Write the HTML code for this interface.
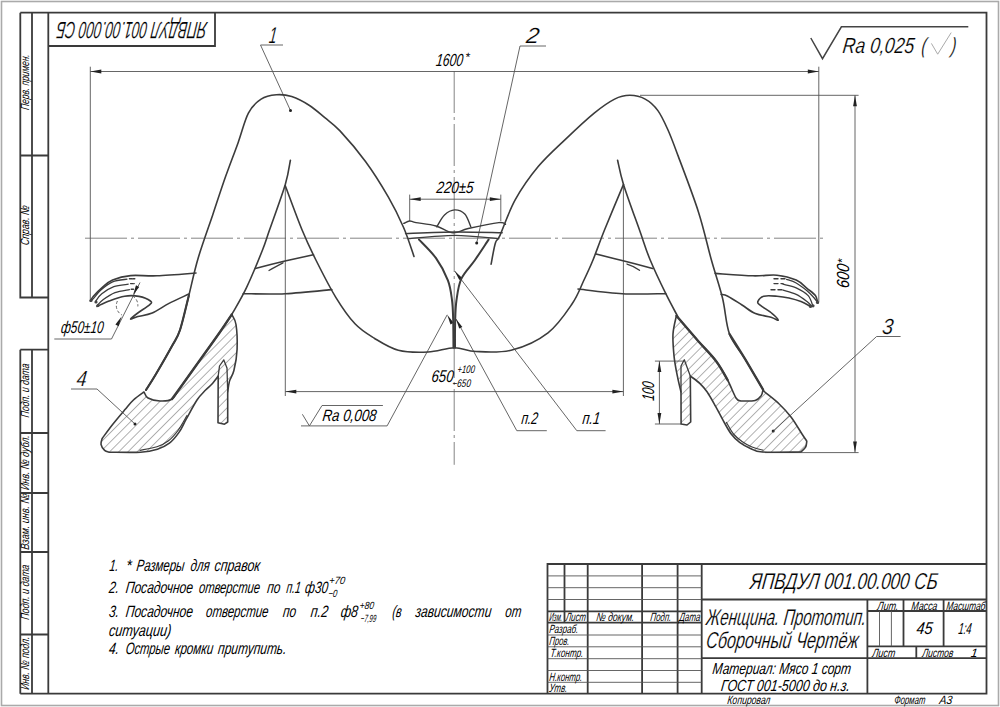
<!DOCTYPE html>
<html><head><meta charset="utf-8">
<style>
html,body{margin:0;padding:0;background:#fff;width:1000px;height:707px;overflow:hidden}
svg{display:block}
text{font-family:"Liberation Sans",sans-serif;font-style:italic;fill:#000}
.k{stroke:#3a3a3a;fill:none;stroke-width:1.8}
.t{stroke:#555;fill:none;stroke-width:0.9}
.c{stroke:#777;fill:none;stroke-width:0.9}
.b{stroke:#3c3c3c;fill:none;stroke-width:1.6;stroke-linecap:round;stroke-linejoin:round}
.h{stroke:#666;fill:none;stroke-width:0.8}
</style></head>
<body>
<svg width="1000" height="707" viewBox="0 0 1000 707">
<!-- outer sheet border -->
<rect x="1.5" y="1.5" width="997" height="704" fill="none" stroke="#aaa" stroke-width="1.6"/>
<!-- FRAME -->
<g id="frame">
<path class="k" d="M20.3 12.7H986.5V693.7H20.3"/>
<path class="k" d="M48.3 12.7V693.7"/>
<path class="k" d="M20.3 12.7V297.5H48.3M20.3 155.5H48.3M32 12.7V297.5"/>
<path class="k" d="M20.3 349.7H48.3M20.3 349.7V693.7M32 349.7V693.7M20.3 433H48.3M20.3 493H48.3M20.3 552H48.3M20.3 634.5H48.3"/>
<path class="k" d="M48.3 46H215V12.7"/>
</g>
<g id="striptext" font-size="12">
<text transform="translate(29.3 110.2) rotate(-90) skewX(-7)" textLength="55.5" lengthAdjust="spacingAndGlyphs">Перв. примен.</text>
<text transform="translate(29.3 245.5) rotate(-90) skewX(-7)" textLength="39.7" lengthAdjust="spacingAndGlyphs">Справ. №</text>
<text transform="translate(29.3 417.7) rotate(-90) skewX(-7)" textLength="53.7" lengthAdjust="spacingAndGlyphs">Подп. и дата</text>
<text transform="translate(29.3 490.3) rotate(-90) skewX(-7)" textLength="54.8" lengthAdjust="spacingAndGlyphs">Инв. № дубл.</text>
<text transform="translate(29.3 550) rotate(-90) skewX(-7)" textLength="56" lengthAdjust="spacingAndGlyphs">Взам. инв. №</text>
<text transform="translate(29.3 620) rotate(-90) skewX(-7)" textLength="55" lengthAdjust="spacingAndGlyphs">Подп. и дата</text>
<text transform="translate(29.3 690) rotate(-90) skewX(-7)" textLength="53" lengthAdjust="spacingAndGlyphs">Инв. № подл.</text>
</g>
<text style="stroke:#fff;stroke-width:0.2px" transform="translate(207.5 21.5) rotate(180) skewX(-7)" font-size="23.5" textLength="150" lengthAdjust="spacingAndGlyphs">ЯПВДУЛ 001.00.000 СБ</text>

<!-- TITLE BLOCK -->
<g id="tb">
<path class="k" d="M547.5 693.7V564H986.5"/>
<path class="k" d="M564.5 564V622.7M587.7 564V693.7M642.1 564V693.7M677.6 564V693.7M701.7 564V693.7"/>
<path class="k" d="M547.5 611.3H701.7M547.5 622.7H701.7"/>
<path class="t" d="M547.5 575.9H701.7M547.5 587.7H701.7M547.5 599.5H701.7M547.5 635H701.7M547.5 646.8H701.7M547.5 658.7H701.7M547.5 670.5H701.7M547.5 682.3H701.7"/>
<path class="k" d="M701.7 599.5H986.5M701.7 658.2H986.5M867.4 599.5V693.7M867.4 611H986.5M903.5 599.5V646.3M943.6 599.5V646.3M867.4 646.3H986.5M916.3 646.3V658.2"/>
<path class="t" d="M879.5 611V646.3M891.4 611V646.3"/>
</g>
<g id="tbtext" font-size="12">
<text transform="translate(549 621) skewX(-7)" textLength="13" lengthAdjust="spacingAndGlyphs">Изм.</text>
<text transform="translate(565.5 621) skewX(-7)" textLength="20" lengthAdjust="spacingAndGlyphs">Лист</text>
<text transform="translate(596 621) skewX(-7)" textLength="38" lengthAdjust="spacingAndGlyphs">№ докум.</text>
<text transform="translate(650 621) skewX(-7)" textLength="21" lengthAdjust="spacingAndGlyphs">Подп.</text>
<text transform="translate(679 621) skewX(-7)" textLength="21" lengthAdjust="spacingAndGlyphs">Дата</text>
<text transform="translate(549 633) skewX(-7)" textLength="29" lengthAdjust="spacingAndGlyphs">Разраб.</text>
<text transform="translate(549 645) skewX(-7)" textLength="20" lengthAdjust="spacingAndGlyphs">Пров.</text>
<text transform="translate(550 657) skewX(-7)" textLength="33" lengthAdjust="spacingAndGlyphs">Т.контр.</text>
<text transform="translate(549 680.5) skewX(-7)" textLength="33" lengthAdjust="spacingAndGlyphs">Н.контр.</text>
<text transform="translate(549 692) skewX(-7)" textLength="18" lengthAdjust="spacingAndGlyphs">Утв.</text>
<text transform="translate(877 609.5) skewX(-7)" textLength="21" lengthAdjust="spacingAndGlyphs">Лит.</text>
<text transform="translate(911 609.5) skewX(-7)" textLength="26" lengthAdjust="spacingAndGlyphs">Масса</text>
<text transform="translate(946 609.5) skewX(-7)" textLength="39" lengthAdjust="spacingAndGlyphs">Масштаб</text>
<text transform="translate(872 656.5) skewX(-7)" textLength="23" lengthAdjust="spacingAndGlyphs">Лист</text>
<text transform="translate(922 656.5) skewX(-7)" textLength="31" lengthAdjust="spacingAndGlyphs">Листов</text>
<text transform="translate(970.5 656.5) skewX(-7)" font-size="12">1</text>
<text transform="translate(916 634) skewX(-7)" font-size="17" textLength="16" lengthAdjust="spacingAndGlyphs">45</text>
<text transform="translate(958 634) skewX(-7)" font-size="16" textLength="13" lengthAdjust="spacingAndGlyphs">1:4</text>
<text transform="translate(749.5 589.2) skewX(-7)" style="stroke:#fff;stroke-width:0.2px" font-size="23" textLength="187.5" lengthAdjust="spacingAndGlyphs">ЯПВДУЛ 001.00.000 СБ</text>
<text transform="translate(705.5 625) skewX(-7)" style="stroke:#fff;stroke-width:0.2px" font-size="23" textLength="160" lengthAdjust="spacingAndGlyphs">Женщина. Прототип.</text>
<text transform="translate(705.5 647.8) skewX(-7)" style="stroke:#fff;stroke-width:0.2px" font-size="23" textLength="152.5" lengthAdjust="spacingAndGlyphs">Сборочный Чертёж</text>
<text transform="translate(712 674) skewX(-7)" font-size="16" textLength="138.5" lengthAdjust="spacingAndGlyphs">Материал: Мясо 1 сорт</text>
<text transform="translate(720.5 691) skewX(-7)" font-size="16" textLength="129" lengthAdjust="spacingAndGlyphs">ГОСТ 001-5000 до н.з.</text>
<text transform="translate(727 704) skewX(-7)" font-size="12" textLength="43" lengthAdjust="spacingAndGlyphs">Копировал</text>
<text transform="translate(894 704) skewX(-7)" font-size="12" textLength="31" lengthAdjust="spacingAndGlyphs">Формат</text>
<text transform="translate(939 704) skewX(-7)" font-size="12" textLength="13" lengthAdjust="spacingAndGlyphs">А3</text>
</g>

<!-- NOTES -->
<g id="notes">
<text transform="translate(109 571.1) skewX(-7)" font-size="16.5" textLength="9.0" lengthAdjust="spacingAndGlyphs">1.</text>
<text transform="translate(125.5 571.1) skewX(-7)" font-size="16.5" textLength="5.5" lengthAdjust="spacingAndGlyphs">*</text>
<text transform="translate(136 571.1) skewX(-7)" font-size="16.5" textLength="48.0" lengthAdjust="spacingAndGlyphs">Размеры</text>
<text transform="translate(190 571.1) skewX(-7)" font-size="16.5" textLength="19.2" lengthAdjust="spacingAndGlyphs">для</text>
<text transform="translate(214 571.1) skewX(-7)" font-size="16.5" textLength="45.6" lengthAdjust="spacingAndGlyphs">справок</text>
<text transform="translate(108.4 593.2) skewX(-7)" font-size="16.5" textLength="10.1" lengthAdjust="spacingAndGlyphs">2.</text>
<text transform="translate(125.2 593.2) skewX(-7)" font-size="16.5" textLength="67.2" lengthAdjust="spacingAndGlyphs">Посадочное</text>
<text transform="translate(198.4 593.2) skewX(-7)" font-size="16.5" textLength="61.2" lengthAdjust="spacingAndGlyphs">отверстие</text>
<text transform="translate(266.8 593.2) skewX(-7)" font-size="16.5" textLength="13.2" lengthAdjust="spacingAndGlyphs">по</text>
<text transform="translate(286 593.2) skewX(-7)" font-size="16.5" textLength="14.4" lengthAdjust="spacingAndGlyphs">п.1</text>
<text transform="translate(304.6 593.2) skewX(-7)" font-size="16.5" textLength="23.0" lengthAdjust="spacingAndGlyphs">ф30</text>
<text transform="translate(328.7 583.8) skewX(-7)" font-size="10.5" textLength="16.1" lengthAdjust="spacingAndGlyphs">+70</text>
<text transform="translate(328 597.1) skewX(-7)" font-size="10.5" textLength="9.0" lengthAdjust="spacingAndGlyphs">−0</text>
<text transform="translate(108.4 617.1) skewX(-7)" font-size="16.5" textLength="10.1" lengthAdjust="spacingAndGlyphs">3.</text>
<text transform="translate(125.2 617.1) skewX(-7)" font-size="16.5" textLength="67.2" lengthAdjust="spacingAndGlyphs">Посадочное</text>
<text transform="translate(205.6 617.1) skewX(-7)" font-size="16.5" textLength="62.4" lengthAdjust="spacingAndGlyphs">отверстие</text>
<text transform="translate(282.4 617.1) skewX(-7)" font-size="16.5" textLength="13.2" lengthAdjust="spacingAndGlyphs">по</text>
<text transform="translate(310.3 617.1) skewX(-7)" font-size="16.5" textLength="17.3" lengthAdjust="spacingAndGlyphs">п.2</text>
<text transform="translate(340.2 617.1) skewX(-7)" font-size="16.5" textLength="17.3" lengthAdjust="spacingAndGlyphs">ф8</text>
<text transform="translate(359.3 609) skewX(-7)" font-size="10.5" textLength="14.3" lengthAdjust="spacingAndGlyphs">+80</text>
<text transform="translate(360.3 622.4) skewX(-7)" font-size="10.5" textLength="15.6" lengthAdjust="spacingAndGlyphs">−7,99</text>
<text transform="translate(392 617.1) skewX(-7)" font-size="16.5" textLength="9.2" lengthAdjust="spacingAndGlyphs">(в</text>
<text transform="translate(415 617.1) skewX(-7)" font-size="16.5" textLength="75.9" lengthAdjust="spacingAndGlyphs">зависимости</text>
<text transform="translate(504.7 617.1) skewX(-7)" font-size="16.5" textLength="16.1" lengthAdjust="spacingAndGlyphs">от</text>
<text transform="translate(108.4 636.4) skewX(-7)" font-size="16.5" textLength="62.4" lengthAdjust="spacingAndGlyphs">ситуации)</text>
<text transform="translate(108.4 654.4) skewX(-7)" font-size="16.5" textLength="10.1" lengthAdjust="spacingAndGlyphs">4.</text>
<text transform="translate(125.2 654.4) skewX(-7)" font-size="16.5" textLength="44.4" lengthAdjust="spacingAndGlyphs">Острые</text>
<text transform="translate(174.4 654.4) skewX(-7)" font-size="16.5" textLength="38.4" lengthAdjust="spacingAndGlyphs">кромки</text>
<text transform="translate(217.6 654.4) skewX(-7)" font-size="16.5" textLength="68.4" lengthAdjust="spacingAndGlyphs">притупить.</text>
</g><!--/notes-->

<!-- DRAWING -->
<g id="drawing">
<g class="c" stroke-dasharray="42 4 3 4">
<path d="M85 238.2H823.7"/>
<path d="M454.2 71V464.8"/>
</g>
<path class="t" d="M90.3 66.7V300M818.8 66.7V302M90.3 71.5H818.8"/>
<path class="t" d="M409.7 194.6V221M500.8 194.6V221M409.7 199.2H500.8"/>
<path class="t" d="M640 95.3H858.6M765 452.6H858.6M855 95.3V452.6"/>
<path class="t" d="M285.3 186V396M623.4 184.4V396M285.3 391.6H623.4"/>
<path class="t" d="M654.9 361.1H684M654.9 424H681M659.4 361.1V424"/>
<path d="M90.3 71.5L101.3 73.4L101.3 69.6Z" fill="#222"/>
<path d="M818.8 71.5L807.8 69.6L807.8 73.4Z" fill="#222"/>
<path d="M409.7 199.2L420.7 201.1L420.7 197.3Z" fill="#222"/>
<path d="M500.8 199.2L489.8 197.3L489.8 201.1Z" fill="#222"/>
<path d="M855.0 95.3L853.1 106.3L856.9 106.3Z" fill="#222"/>
<path d="M855.0 452.6L856.9 441.6L853.1 441.6Z" fill="#222"/>
<path d="M285.3 391.6L296.3 393.5L296.3 389.7Z" fill="#222"/>
<path d="M623.4 391.6L612.4 389.7L612.4 393.5Z" fill="#222"/>
<path d="M659.4 361.1L657.5 372.1L661.3 372.1Z" fill="#222"/>
<path d="M659.4 424.0L661.3 413.0L657.5 413.0Z" fill="#222"/>
<path class="t" d="M260.5 45H283M260.5 45L290.5 110.6"/>
<path class="t" d="M520 46H546M520 46L476.7 243"/>
<path class="t" d="M876.6 336.5H900.6M876.6 336.5L773.2 431"/>
<path class="t" d="M71 389H97M97 389L135 424"/>
<path class="t" d="M576.8 430.7H605.6M576.8 430.7L454.7 271"/>
<path class="t" d="M516.8 430.7H546.8M516.8 430.7L456 319"/>
<path class="t" d="M301 425.9H387.1L447.2 314.8"/>
<path class="t" d="M302.4 414.3L309.4 425.9L322 405.5H382.9"/>
<path class="t" d="M54.3 339H111.5L140 282.5"/>
<circle cx="290.5" cy="110.6" r="1.5" fill="#222"/>
<circle cx="476.7" cy="243" r="1.5" fill="#222"/>
<circle cx="773.2" cy="431" r="1.5" fill="#222"/>
<circle cx="135" cy="424" r="1.5" fill="#222"/>
<path d="M454.7 271.0L459.3 280.0L462.2 277.9Z" fill="#222"/>
<path d="M456.0 319.0L459.2 328.6L462.4 326.9Z" fill="#222"/>
<path d="M447.2 314.8L450.5 324.4L453.6 322.7Z" fill="#222"/>
<path d="M133.0 295.0L139.2 287.0L136.0 285.3Z" fill="#222"/>
<path d="M121.6 316.6L115.4 324.6L118.6 326.3Z" fill="#222"/>
<path class="t" d="M810.8 38L822.5 58.7L841.4 26.8H968.3" style="stroke-width:1.5;stroke:#444"/>
<path class="b" d="M146.0 390.0C147.7 387.3 151.7 381.3 156.0 374.0C160.3 366.7 168.0 353.3 172.0 346.0C176.0 338.7 177.2 338.4 180.0 330.0C182.8 321.6 185.8 307.7 188.8 295.7C191.8 283.7 194.2 271.4 198.2 258.0C202.2 244.6 208.1 228.5 212.7 215.0C217.2 201.5 221.2 188.9 225.5 176.8C229.8 164.7 234.4 153.0 238.2 142.4C242.0 131.8 244.6 120.3 248.4 113.1C252.2 105.9 256.4 102.1 261.1 99.1C265.8 96.0 271.3 95.2 276.4 94.8C281.5 94.4 286.2 94.8 291.7 96.6C297.2 98.4 304.0 102.0 309.5 105.5C315.0 109.0 319.7 113.5 324.8 117.7C329.9 121.9 333.2 123.6 340.0 130.9C346.8 138.2 357.4 150.5 365.5 161.5C373.6 172.5 382.0 186.1 388.4 197.1C394.8 208.1 399.4 217.8 403.7 227.7C408.0 237.6 412.3 251.7 414.0 256.5"/>
<path class="b" d="M290.4 160.2C289.5 164.2 288.8 172.8 285.3 184.4C281.8 196.0 273.3 219.1 269.5 230.0C265.7 240.9 266.3 240.4 262.5 250.0C258.7 259.6 251.6 276.9 246.5 287.6C241.4 298.4 234.2 310.0 231.8 314.5"/>
<path class="b" d="M285.3 185.7C288.1 193.1 297.0 217.6 302.1 230.0C307.2 242.4 310.3 248.8 315.9 260.0C321.5 271.2 329.3 286.7 335.8 297.3C342.3 307.9 348.6 317.0 355.0 323.8C361.4 330.6 367.1 333.8 374.3 338.2C381.5 342.6 389.4 347.9 398.3 350.2C407.2 352.5 418.6 352.4 428.0 352.0C437.4 351.6 446.4 347.8 454.4 347.7C462.4 347.6 466.4 351.1 476.0 351.5C485.6 351.9 500.0 353.1 512.0 350.0C524.0 346.9 538.0 340.5 548.0 332.8C558.0 325.1 566.0 312.8 572.0 304.0C578.0 295.2 580.5 287.3 584.0 280.0C587.5 272.7 589.6 268.3 593.0 260.0C596.4 251.7 599.4 242.6 604.5 230.0C609.6 217.4 620.3 192.0 623.5 184.4"/>
<path class="b" d="M491.1 264.2C491.8 260.7 493.9 247.8 495.4 243.0C496.9 238.2 496.7 242.5 500.0 235.3C503.3 228.1 508.9 211.1 515.3 199.7C521.7 188.2 529.7 176.8 538.2 166.6C546.7 156.4 556.9 147.5 566.2 138.6C575.5 129.7 586.1 119.7 594.2 113.1C602.3 106.5 608.7 102.1 614.6 99.1C620.5 96.1 624.8 95.3 629.9 95.3C635.0 95.3 640.5 96.5 645.2 99.1C649.9 101.6 654.1 105.4 657.9 110.6C661.7 115.8 664.6 122.4 668.0 130.0C671.4 137.6 673.2 142.7 678.3 156.4C683.4 170.1 693.1 195.1 698.6 212.4C704.1 229.7 707.4 245.7 711.4 260.0C715.4 274.3 719.5 285.7 722.5 298.0C725.5 310.3 725.8 323.9 729.5 334.0C733.2 344.1 739.4 349.5 745.0 358.8C750.6 368.1 760.0 384.5 763.0 389.6"/>
<path class="b" d="M617.6 160.2C618.6 164.2 619.9 172.8 623.5 184.4C627.1 196.0 635.0 217.4 639.5 230.0C644.0 242.6 645.8 249.4 650.2 260.0C654.6 270.6 661.2 284.3 665.8 293.7C670.4 303.1 675.8 312.8 677.8 316.6"/>
<defs><pattern id="hp" patternUnits="userSpaceOnUse" width="6.5" height="6.5" patternTransform="rotate(45)"><line x1="0" y1="0" x2="0" y2="6.5" stroke="#555" stroke-width="0.9"/></pattern></defs>
<path d="M231.8 314.5C232.5 316.2 235.1 318.7 236.0 324.5C236.9 330.3 237.4 341.5 237.1 349.2C236.8 356.9 235.2 365.2 233.9 370.5C232.6 375.8 230.5 377.5 229.5 381.1C228.5 384.7 228.0 390.2 227.7 392.0L227.7 422L224.5 424.2L218 422.7L218.2 376C217.2 377.3 214.1 381.7 212.0 384.0C209.9 386.3 208.1 387.3 205.6 390.0C203.1 392.7 200.2 395.1 197.0 400.0C193.8 404.9 189.2 413.8 186.2 419.2C183.2 424.6 181.8 428.4 179.0 432.4C176.2 436.4 173.0 440.4 169.4 443.2C165.8 446.0 162.2 447.7 157.4 449.2C152.6 450.7 148.6 451.7 140.6 452.2C132.6 452.7 114.6 452.2 109.4 452.2C108.6 451.9 106.0 451.7 104.6 450.4C103.2 449.1 101.4 446.4 101.0 444.4C100.6 442.4 102.0 439.4 102.2 438.4C104.0 436.0 109.2 428.8 113.0 424.0C116.8 419.2 121.6 413.6 125.0 409.6C128.4 405.6 130.2 402.9 133.4 400.0C136.6 397.1 142.2 393.3 144.0 392.0C144.7 393.0 145.3 396.5 148.0 398.0C150.7 399.5 156.0 400.8 160.0 401.0C164.0 401.2 168.7 401.2 172.0 399.0C175.3 396.8 175.3 394.5 180.0 388.0C184.7 381.5 193.3 369.3 200.0 360.0C206.7 350.7 214.7 339.6 220.0 332.0C225.3 324.4 229.8 317.4 231.8 314.5Z" fill="url(#hp)" stroke="none"/>
<path d="M676.4 315.8C680.0 319.9 691.3 333.2 697.9 340.7C704.5 348.2 711.0 354.4 716.0 361.0C721.0 367.6 724.3 373.8 727.6 380.0C730.9 386.2 733.8 394.5 736.0 398.0C738.2 401.5 740.0 400.5 740.8 401.0C743.2 400.9 751.8 401.3 755.2 400.4C758.6 399.5 759.9 397.4 761.2 395.6C762.5 393.8 762.7 390.6 763.0 389.6C763.3 390.0 762.1 389.6 764.8 392.0C767.5 394.4 774.8 399.8 779.2 404.0C783.6 408.2 787.4 412.2 791.2 417.2C795.0 422.2 799.4 430.0 802.0 434.0C804.6 438.0 806.0 440.0 806.8 441.2C806.6 442.2 806.6 445.4 805.6 447.2C804.6 449.0 801.6 451.2 800.8 452.0C794.4 452.0 770.8 452.6 762.4 452.0C754.0 451.4 754.2 450.0 750.4 448.4C746.6 446.8 742.8 444.8 739.6 442.4C736.4 440.0 733.8 437.4 731.2 434.0C728.6 430.6 726.6 426.6 724.0 422.0C721.4 417.4 718.4 411.4 715.6 406.4C712.8 401.4 709.8 395.8 707.2 392.0C704.6 388.2 702.8 386.3 700.0 383.6C697.2 380.9 691.9 377.3 690.3 376.0L690.7 422L687 425L681.1 424L681 392C680.4 389.4 678.5 382.1 677.4 376.2C676.2 370.3 674.8 363.6 674.1 356.6C673.4 349.6 672.6 340.8 673.0 334.0C673.4 327.2 675.8 318.8 676.4 315.8Z" fill="url(#hp)" stroke="none"/>
<path class="b" d="M231.8 314.5C232.5 316.2 235.1 318.7 236.0 324.5C236.9 330.3 237.4 341.5 237.1 349.2C236.8 356.9 235.2 365.2 233.9 370.5C232.6 375.8 230.5 377.5 229.5 381.1C228.5 384.7 228.0 390.2 227.7 392.0L227.7 422L224.5 424.2L218 422.7L218.2 376C217.2 377.3 214.1 381.7 212.0 384.0C209.9 386.3 208.1 387.3 205.6 390.0C203.1 392.7 200.2 395.1 197.0 400.0C193.8 404.9 189.2 413.8 186.2 419.2C183.2 424.6 181.8 428.4 179.0 432.4C176.2 436.4 173.0 440.4 169.4 443.2C165.8 446.0 162.2 447.7 157.4 449.2C152.6 450.7 148.6 451.7 140.6 452.2C132.6 452.7 114.6 452.2 109.4 452.2C108.6 451.9 106.0 451.7 104.6 450.4C103.2 449.1 101.4 446.4 101.0 444.4C100.6 442.4 102.0 439.4 102.2 438.4C104.0 436.0 109.2 428.8 113.0 424.0C116.8 419.2 121.6 413.6 125.0 409.6C128.4 405.6 130.2 402.9 133.4 400.0C136.6 397.1 142.2 393.3 144.0 392.0C144.7 393.0 145.3 396.5 148.0 398.0C150.7 399.5 156.0 400.8 160.0 401.0C164.0 401.2 168.7 401.2 172.0 399.0C175.3 396.8 175.3 394.5 180.0 388.0C184.7 381.5 193.3 369.3 200.0 360.0C206.7 350.7 214.7 339.6 220.0 332.0C225.3 324.4 229.8 317.4 231.8 314.5Z"/>
<path class="b" d="M676.4 315.8C680.0 319.9 691.3 333.2 697.9 340.7C704.5 348.2 711.0 354.4 716.0 361.0C721.0 367.6 724.3 373.8 727.6 380.0C730.9 386.2 733.8 394.5 736.0 398.0C738.2 401.5 740.0 400.5 740.8 401.0C743.2 400.9 751.8 401.3 755.2 400.4C758.6 399.5 759.9 397.4 761.2 395.6C762.5 393.8 762.7 390.6 763.0 389.6C763.3 390.0 762.1 389.6 764.8 392.0C767.5 394.4 774.8 399.8 779.2 404.0C783.6 408.2 787.4 412.2 791.2 417.2C795.0 422.2 799.4 430.0 802.0 434.0C804.6 438.0 806.0 440.0 806.8 441.2C806.6 442.2 806.6 445.4 805.6 447.2C804.6 449.0 801.6 451.2 800.8 452.0C794.4 452.0 770.8 452.6 762.4 452.0C754.0 451.4 754.2 450.0 750.4 448.4C746.6 446.8 742.8 444.8 739.6 442.4C736.4 440.0 733.8 437.4 731.2 434.0C728.6 430.6 726.6 426.6 724.0 422.0C721.4 417.4 718.4 411.4 715.6 406.4C712.8 401.4 709.8 395.8 707.2 392.0C704.6 388.2 702.8 386.3 700.0 383.6C697.2 380.9 691.9 377.3 690.3 376.0L690.7 422L687 425L681.1 424L681 392C680.4 389.4 678.5 382.1 677.4 376.2C676.2 370.3 674.8 363.6 674.1 356.6C673.4 349.6 672.6 340.8 673.0 334.0C673.4 327.2 675.8 318.8 676.4 315.8Z"/>
<path class="b" d="M218.2 376L219.5 366L223.8 359.9L227 368L227.7 392" style="stroke-width:1.3"/>
<path class="b" d="M681 392L681 366L684.3 359.8L690.3 376" style="stroke-width:1.3"/>
<path class="b" d="M172.0 399.0C173.3 397.2 175.3 394.5 180.0 388.0C184.7 381.5 193.3 369.3 200.0 360.0C206.7 350.7 214.7 339.6 220.0 332.0C225.3 324.4 229.8 317.4 231.8 314.5" style="stroke-width:2.4"/>
<path class="b" d="M676.4 315.8C680.0 319.9 691.3 333.2 697.9 340.7C704.5 348.2 711.0 354.4 716.0 361.0C721.0 367.6 725.7 376.8 727.6 380.0" style="stroke-width:2.4"/>
<path class="b" d="M140.0 450.3C142.8 449.7 152.2 448.4 157.0 446.8C161.8 445.2 165.0 443.5 168.5 440.8C172.0 438.1 174.9 434.7 178.0 430.5C181.1 426.3 185.5 418.0 187.0 415.5" style="stroke-width:1.2"/>
<path class="b" d="M726.5 422.5C727.7 424.4 730.9 430.8 733.5 434.0C736.1 437.2 738.9 439.3 742.0 441.5C745.1 443.7 748.5 445.6 752.0 447.0C755.5 448.4 761.2 449.7 763.0 450.2" style="stroke-width:1.2"/>
<path class="b" d="M729.5 334.0C732.1 338.1 739.4 349.5 745.0 358.8C750.6 368.1 760.0 384.5 763.0 389.6" style="stroke-width:2.3"/>
<path class="b" d="M188.8 295.7C187.3 301.4 182.8 321.6 180.0 330.0C177.2 338.4 176.0 338.7 172.0 346.0C168.0 353.3 160.3 366.7 156.0 374.0C151.7 381.3 147.7 387.3 146.0 390.0" style="stroke-width:2.1"/>
<path class="b" d="M90.4 301.0C90.9 300.2 91.5 298.4 93.4 296.2C95.3 294.0 98.6 290.5 101.8 287.8C105.0 285.1 107.8 282.0 112.6 280.0C117.4 278.0 123.2 276.3 130.6 275.6C138.0 274.9 146.1 276.2 157.0 275.8C167.9 275.4 189.5 273.5 196.0 273.0"/>
<path class="b" d="M97.0 306.4C99.0 305.5 104.4 302.7 109.0 301.0C113.6 299.3 119.6 297.0 124.6 296.2C129.6 295.4 134.7 295.6 139.0 296.4C143.3 297.2 148.6 299.6 150.4 301.0C152.2 302.4 151.9 302.6 149.8 304.6C147.7 306.6 141.0 310.6 137.8 313.0C134.6 315.4 130.6 318.4 130.6 319.0C130.6 319.6 134.2 317.6 137.8 316.6C141.4 315.6 147.0 315.2 152.2 313.0C157.4 310.8 162.9 306.6 169.0 303.4C175.1 300.2 185.7 295.6 189.0 294.0"/>
<path class="b" d="M127.0 279.2C124.6 279.6 117.0 280.0 112.6 281.8C108.2 283.6 103.8 287.4 100.6 290.2C97.4 293.0 95.1 296.8 93.4 298.6C91.7 300.4 90.9 300.6 90.4 301.0" style="stroke-width:1.3"/>
<path class="b" d="M128.2 284.2C125.8 284.6 118.2 285.0 113.8 286.6C109.4 288.2 104.8 291.4 101.8 293.8C98.8 296.2 96.8 299.8 95.8 301.0" style="stroke-width:1.3"/>
<path class="b" d="M129.4 289.6C127.0 290.1 119.4 290.9 115.0 292.6C110.6 294.3 106.0 297.6 103.0 299.8C100.0 302.0 98.0 304.8 97.0 305.8" style="stroke-width:1.3"/>
<circle cx="91" cy="300.5" r="1.6" fill="#444"/>
<circle cx="96" cy="302" r="1.6" fill="#444"/>
<circle cx="98" cy="305.5" r="1.6" fill="#444"/>
<path class="b" d="M255.3 268.5C260.2 267.2 275.3 263.3 285.0 261.0C294.7 258.7 308.8 255.8 313.5 254.8"/>
<path class="b" d="M243.2 293.7C250.2 293.7 270.5 294.4 285.3 293.7C300.1 293.0 324.1 290.3 331.8 289.6"/>
<path class="b" d="M269 270.5Q274 267.5 283 262.8" style="stroke-width:1.3"/>
<path class="b" d="M596.0 254.0C600.7 255.2 614.6 258.6 624.0 261.0C633.4 263.4 647.8 267.2 652.6 268.5"/>
<path class="b" d="M578.0 289.0C585.4 289.8 607.9 292.9 622.5 293.7C637.1 294.5 658.6 293.7 665.8 293.7"/>
<path class="b" d="M627 264Q634 266 639.5 270.3" style="stroke-width:1.3"/>
<path class="b" d="M715.2 273.4C721.5 273.8 742.7 275.5 753.0 275.8C763.3 276.1 769.8 274.5 777.0 275.2C784.2 275.9 791.2 277.8 796.2 280.0C801.2 282.2 803.8 285.8 807.0 288.4C810.2 291.0 813.6 293.2 815.4 295.6C817.2 298.0 817.4 301.6 817.8 302.8"/>
<path class="b" d="M721.2 294.4C722.3 294.7 724.3 294.4 727.8 296.2C731.3 298.0 737.4 302.1 742.0 305.0C746.6 307.9 750.6 311.6 755.4 313.6C760.2 315.6 767.2 316.1 771.0 317.2C774.8 318.3 778.0 320.8 778.2 320.2C778.4 319.6 775.2 316.1 772.2 313.6C769.2 311.1 762.6 307.2 760.2 305.2C757.8 303.2 757.2 303.1 757.8 301.6C758.4 300.1 760.6 297.1 763.8 296.2C767.0 295.3 772.8 295.9 777.0 296.2C781.2 296.5 785.0 297.1 789.0 298.0C793.0 298.9 797.4 300.2 801.0 301.6C804.6 303.0 809.0 305.6 810.6 306.4"/>
<path class="b" d="M786.6 279.4C788.2 280.0 792.8 281.1 796.2 283.0C799.6 284.9 804.0 288.3 807.0 290.8C810.0 293.3 812.4 296.0 814.2 298.0C816.0 300.0 817.2 302.0 817.8 302.8" style="stroke-width:1.3"/>
<path class="b" d="M783.0 284.2C785.2 284.8 792.0 285.9 796.2 287.8C800.4 289.7 805.4 292.5 808.2 295.6C811.0 298.7 812.2 304.6 813.0 306.4" style="stroke-width:1.3"/>
<path class="b" d="M783.0 290.2C785.2 290.9 792.2 292.5 796.2 294.4C800.2 296.3 804.4 299.6 807.0 301.6C809.6 303.6 811.0 305.6 811.8 306.4" style="stroke-width:1.3"/>
<circle cx="817.5" cy="302.5" r="1.6" fill="#444"/>
<circle cx="813" cy="305.8" r="1.6" fill="#444"/>
<circle cx="810.5" cy="306.5" r="1.6" fill="#444"/>
<path class="b" d="M129.4 278.8H134.8M130.6 283.6H134.2M131.2 289.2H133.5" style="stroke-width:1.4;stroke-dasharray:2.5 1"/>
<path class="b" d="M774 278.8H786.6M774 283.6H783M771 289.8H783" style="stroke-width:1.4;stroke-dasharray:4 3"/>
<path class="t" d="M117.4 301A10.5 10.5 0 0 0 122 315" style="stroke-dasharray:3 2"/>
<path class="t" d="M132.5 296A10.5 10.5 0 0 1 137.8 306.4" style="stroke-dasharray:3 2"/>
<path class="b" d="M403.8 223.4C404.8 223.0 407.7 221.1 409.7 221.0C411.7 220.9 411.6 221.8 416.0 222.6C420.4 223.4 429.8 224.3 436.0 226.0C442.2 227.7 447.6 232.4 453.0 232.8C458.4 233.2 460.6 230.2 468.2 228.5C475.8 226.8 492.6 223.3 498.8 222.6C505.0 221.9 504.4 224.0 505.5 224.3" style="stroke-width:1.4"/>
<path class="b" d="M436.8 226.8C438.1 224.8 441.5 217.8 444.5 215.0C447.5 212.2 451.3 210.1 454.7 209.9C458.1 209.8 462.1 211.3 464.8 214.1C467.5 216.9 469.8 224.7 470.8 226.8" style="stroke-width:1.4"/>
<path class="b" d="M405.5 233.6C414.0 233.3 440.2 232.1 456.3 232.0C472.4 231.9 494.6 232.7 502.2 232.8" style="stroke-width:1.4"/>
<path class="b" d="M408.8 238.7C416.4 238.1 439.7 235.3 454.7 235.3C469.7 235.3 491.4 238.1 498.8 238.7" style="stroke-width:1.2"/>
<path class="b" d="M419.0 239.6C421.8 242.7 431.2 251.4 436.0 258.2C440.8 265.0 445.2 273.3 447.9 280.3C450.6 287.3 451.1 293.4 452.0 300.0C452.9 306.6 452.9 312.0 453.2 320.0C453.4 328.0 453.4 343.2 453.5 347.8" style="stroke-width:2"/>
<path class="b" d="M488.6 239.6C486.3 243.0 479.5 253.5 475.0 260.0C470.5 266.5 464.5 271.9 461.4 278.6C458.3 285.3 457.5 293.1 456.5 300.0C455.5 306.9 455.4 312.1 455.2 320.0C454.9 327.9 455.0 343.1 455.0 347.7" style="stroke-width:2"/>
<text transform="translate(268.5 43.3) skewX(-7)" style="stroke:#fff;stroke-width:0.2px" font-size="23" textLength="7.5" lengthAdjust="spacingAndGlyphs" >1</text>
<text transform="translate(525.5 43.1) skewX(-7)" style="stroke:#fff;stroke-width:0.2px" font-size="22" textLength="13" lengthAdjust="spacingAndGlyphs" >2</text>
<text transform="translate(881.5 333.6) skewX(-7)" style="stroke:#fff;stroke-width:0.2px" font-size="22" textLength="11" lengthAdjust="spacingAndGlyphs" >3</text>
<text transform="translate(76 386) skewX(-7)" style="stroke:#fff;stroke-width:0.2px" font-size="22" textLength="10" lengthAdjust="spacingAndGlyphs" >4</text>
<text transform="translate(435.5 65.6) skewX(-7)" font-size="17.5" textLength="27" lengthAdjust="spacingAndGlyphs" >1600</text>
<text transform="translate(464.5 61) skewX(-7)" font-size="12" >*</text>
<text transform="translate(436 193) skewX(-7)" font-size="16.5" textLength="37" lengthAdjust="spacingAndGlyphs" >220±5</text>
<text transform="translate(849 288.5) rotate(-90) skewX(-7)" font-size="17.5" textLength="24" lengthAdjust="spacingAndGlyphs" >600</text>
<text transform="translate(845.5 264) rotate(-90) skewX(-7)" font-size="12" >*</text>
<text transform="translate(653.5 401.1) rotate(-90) skewX(-7)" font-size="17" textLength="19" lengthAdjust="spacingAndGlyphs" >100</text>
<text transform="translate(431 382.4) skewX(-7)" font-size="17" textLength="22" lengthAdjust="spacingAndGlyphs" >650</text>
<text transform="translate(457 373) skewX(-7)" font-size="11" textLength="17.5" lengthAdjust="spacingAndGlyphs" >+100</text>
<text transform="translate(452 386.6) skewX(-7)" font-size="11" textLength="18.5" lengthAdjust="spacingAndGlyphs" >−650</text>
<text transform="translate(521 424) skewX(-7)" font-size="17" textLength="16.5" lengthAdjust="spacingAndGlyphs" >п.2</text>
<text transform="translate(582 424) skewX(-7)" font-size="17" textLength="17.5" lengthAdjust="spacingAndGlyphs" >п.1</text>
<text transform="translate(322 421.3) skewX(-7)" font-size="16.5" textLength="54" lengthAdjust="spacingAndGlyphs" >Ra 0,008</text>
<text transform="translate(842 53.3) skewX(-7)" style="stroke:#fff;stroke-width:0.2px" font-size="22" textLength="71.5" lengthAdjust="spacingAndGlyphs" >Ra 0,025</text>
<text transform="translate(921 53) skewX(-7)" style="stroke:#fff;stroke-width:0.2px" font-size="22" textLength="5" lengthAdjust="spacingAndGlyphs" >(</text>
<text transform="translate(950.5 53) skewX(-7)" style="stroke:#fff;stroke-width:0.2px" font-size="22" textLength="5" lengthAdjust="spacingAndGlyphs" >)</text>
<text transform="translate(60.5 332.6) skewX(-7)" font-size="17" textLength="42.5" lengthAdjust="spacingAndGlyphs" >ф50±10</text>
<path d="M931.4 43.4L937.7 54.2L951.2 32.6" stroke="#aaa" stroke-width="1" fill="none"/>
</g><!--/drawing-->
</svg>
</body></html>
